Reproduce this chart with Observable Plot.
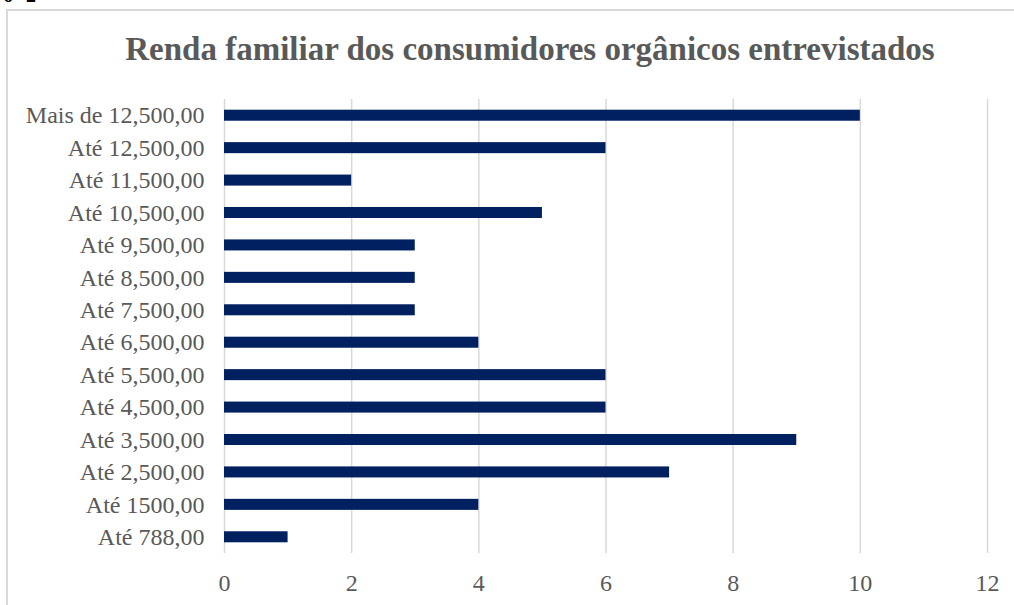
<!DOCTYPE html>
<html>
<head>
<meta charset="utf-8">
<script src="https://cdn.jsdelivr.net/npm/d3@7"></script>
<script src="https://cdn.jsdelivr.net/npm/@observablehq/plot@0.6"></script>
<style>
  html, body { margin: 0; padding: 0; background: #fff; overflow: hidden; width: 1014px; height: 605px; }
  #wrap { position: relative; width: 1014px; height: 605px; overflow: hidden; }
  #frame { position: absolute; left: 6px; top: 9px; width: 1100px; height: 700px; border: 2px solid #d9d9d9; box-sizing: border-box; }
  #frag { position: absolute; left: 3px; top: -16px; font: bold 20px "Liberation Serif", "Times New Roman", serif; color: #000; letter-spacing: 4px; }
  #title { position: absolute; left: 0; width: 1060px; top: 31px; text-align: center; font: bold 33px "Liberation Serif", "Times New Roman", serif; color: #595959; white-space: nowrap; }
  #chart { position: absolute; left: 0; top: 0; }
</style>
</head>
<body>
<div id="wrap">
  <div id="frag">6 2</div>
  <div id="frame"></div>
  <div id="title">Renda familiar dos consumidores orgânicos entrevistados</div>
  <div id="chart"></div>
</div>
<script>
const categories = [
  "Mais de 12,500,00",
  "Até 12,500,00",
  "Até 11,500,00",
  "Até 10,500,00",
  "Até 9,500,00",
  "Até 8,500,00",
  "Até 7,500,00",
  "Até 6,500,00",
  "Até 5,500,00",
  "Até 4,500,00",
  "Até 3,500,00",
  "Até 2,500,00",
  "Até 1500,00",
  "Até 788,00"
];
const values = [10, 6, 2, 5, 3, 3, 3, 4, 6, 6, 9, 7, 4, 1];
const xTicks = [0, 2, 4, 6, 8, 10, 12];

const data = categories.map((c, i) => ({category: c, value: values[i]}));

const chart = Plot.plot({
  width: 1014,
  height: 605,
  marginLeft: 224,
  marginRight: 27,
  marginTop: 99,
  marginBottom: 52,
  style: {
    fontFamily: '"Liberation Serif", "Times New Roman", serif',
    fontSize: "24px",
    color: "#595959",
    background: "transparent",
    overflow: "visible"
  },
  x: {domain: [0, 12], ticks: xTicks, tickSize: 0, tickPadding: 20, label: null, tickFormat: d => String(d)},
  y: {domain: categories, paddingInner: 0.66, paddingOuter: 0.33, round: false, tickSize: 0, tickPadding: 20, label: null},
  marks: [
    Plot.ruleX(xTicks, {stroke: "#d9d9d9", strokeWidth: 1.5, strokeOpacity: 1}),
    Plot.barX(data, {x1: 0, x2: "value", y: "category", fill: "#002060"}),
    Plot.axisY({tickSize: 0, tickPadding: 20, label: null, fill: "#595959"}),
    Plot.axisX({ticks: xTicks, tickSize: 0, tickPadding: 20, label: null, fill: "#595959"})
  ]
});
document.getElementById("chart").appendChild(chart);
</script>
</body>
</html>
